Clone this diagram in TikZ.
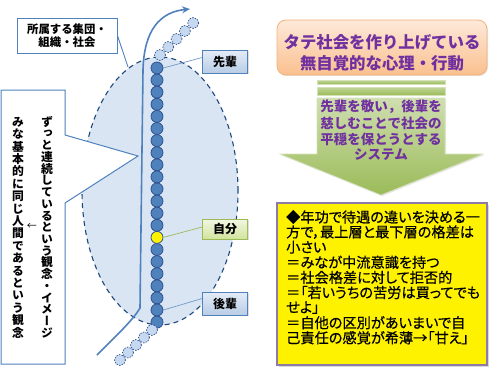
\documentclass[tikz,border=0pt]{standalone}
\usepackage{fontspec}
\setmainfont{Noto Sans CJK JP}
\newfontfamily\vjp{Noto Sans CJK JP}[RawFeature=+vert]
\newfontfamily\pjp{Noto Sans CJK JP}[RawFeature=+palt,FakeBold=0.5]
\usetikzlibrary{arrows.meta,shadows,calc,shapes.geometric}
\definecolor{bord}{HTML}{4F81BD}
\definecolor{darkb}{HTML}{1F497D}
\definecolor{chainf}{HTML}{4F81BD}
\definecolor{chaind}{HTML}{2F528F}
\definecolor{lightc}{HTML}{C6D9F1}
\definecolor{ellf}{HTML}{D9E5F3}
\definecolor{purp}{HTML}{7030A0}
\definecolor{ybord}{HTML}{8C7AA9}
\definecolor{gtop}{HTML}{C3D69B}
\definecolor{gbot}{HTML}{9BBB59}
\definecolor{otop}{HTML}{FDE9D9}
\definecolor{obot}{HTML}{FAC08F}
\definecolor{oline}{HTML}{F2B27A}
\definecolor{btop}{HTML}{E4ECF7}
\definecolor{bbot}{HTML}{B9CDE5}
\definecolor{ltop}{HTML}{F2F7E4}
\definecolor{lbot}{HTML}{D2E39C}
\tikzset{
  circ/.style={circle,draw=chaind,fill=chainf,line width=0.8pt,minimum size=12pt,inner sep=0pt},
  lcirc/.style={circle,draw=chaind,fill=lightc,dashed,dash pattern=on 1.5pt off 1.2pt,line width=0.7pt,minimum size=11pt,inner sep=0pt},
  lab/.style={draw=bord,line width=0.7pt,top color=btop,bottom color=bbot,minimum width=45pt,minimum height=23pt,inner sep=0pt,font=\fontsize{12}{12}\selectfont\bfseries,drop shadow={opacity=0.25,shadow xshift=1pt,shadow yshift=-1.2pt}},
  vch/.style={inner sep=0pt,text height=10pt,text depth=1.5pt,font=\vjp\bfseries\fontsize{11.8}{11.8}\selectfont},
  ytext/.style={anchor=west,inner sep=0pt,font=\pjp\fontsize{14.2}{14.2}\selectfont},
  gtext/.style={inner sep=0pt,text=purp,font=\bfseries\fontsize{13.5}{13.5}\selectfont},
  conn/.style={draw=bord!80,line width=0.7pt},
  arr/.style={draw=bord,line width=1.6pt,-{Stealth[length=8pt,width=7pt]}}
}
\begin{document}
\begin{tikzpicture}[x=1pt,y=-1pt]
\useasboundingbox (0,0) rectangle (500,380);
% ellipse
\node[ellipse,draw=darkb,fill=ellf,dashed,dash pattern=on 5pt off 4pt,line width=1.1pt,minimum width=156pt,minimum height=268pt,inner sep=0pt] (ell) at (160,191) {};
% big arrow curve
\coordinate (a0) at (97,355);
\coordinate (a1) at (140,308);
\coordinate (a2) at (143,70);
\coordinate (a3) at (190,9);
\draw[arr] (a0) .. controls (116,336) and (133,320) .. (a1) -- (a2) .. controls (144,30) and (160,12) .. (a3);
% chain
\foreach \i in {0,...,13,15,16,...,21} \node[circ] (c\i) at (157,68+\i*12.1) {};
\node[circ,fill=yellow,draw=chaind] (c14) at (157,68+14*12.1) {};
\foreach \i in {1,...,5} \node[lcirc] (t\i) at (151.7+\i*8.3,63-\i*8) {};
\foreach \i in {1,...,5} \node[lcirc] (b\i) at (160-\i*8,322.5+\i*7.5) {};
% labels
\node[lab] (sen) at (225,61.5) {先輩};
\node[lab,draw=gbot,top color=ltop,bottom color=lbot,minimum height=20pt] (jib) at (225,229) {自分};
\node[lab] (kou) at (225,303.5) {後輩};
\draw[conn] (c0.east) -- ([yshift=4pt]sen.west);
\draw[conn,draw=gbot] (c14.east) -- ([yshift=2pt]jib.west);
\draw[conn] (c20.east) -- ([yshift=5pt]kou.west);
% top-left group box
\node[draw=bord,line width=0.9pt,fill=white,minimum width=100pt,minimum height=35pt,inner sep=0pt,align=center,font=\bfseries\fontsize{11.4}{13}\selectfont] (grp) at (67,35.5) {所属する集団・\\組織・社会};
\coordinate (gtip) at (128,67);
\draw[bord,line width=0.9pt] (grp.east) -- (gtip);
% left callout
\coordinate (ltip) at (138,156);
\draw[bord,line width=1pt,fill=white] (1,90) -- (65,90) -- (65,135) -- (ltip) -- (65,203) -- (65,364) -- (1,364) -- cycle;
\foreach \c [count=\i from 0] in {ず,っ,と,連,続,し,て,い,る,と,い,う,観,念,・,イ,メ,ー,ジ}
  \node[vch] (r\i) at (47,122+\i*11.72) {\c};
\foreach \c [count=\i from 0] in {み,な,基,本,的,に,同,じ,人,間,で,あ,る,と,い,う,観,念}
  \node[vch] (l\i) at (18,122+\i*12.41) {\c};
\node[inner sep=0pt,font=\fontsize{10}{10}\selectfont] (larr) at (32,226) {←};
% title box
\node[draw=oline,line width=0.8pt,rounded corners=9pt,top color=otop,bottom color=obot,minimum width=210pt,minimum height=55pt,inner sep=0pt,drop shadow={opacity=0.2,shadow xshift=1pt,shadow yshift=-1.2pt}] (ttl) at (382,47.5) {};
\node[inner sep=0pt,text=purp,font=\bfseries\fontsize{16.4}{16.4}\selectfont] (ttl1) at (382,42) {タテ社会を作り上げている};
\node[inner sep=0pt,text=purp,font=\bfseries\fontsize{16.4}{16.4}\selectfont] (ttl2) at (382,63) {無自覚的な心理・行動};
% green block arrow
\path[top color=gtop,bottom color=gbot,draw=gtop!70!white,line width=0.6pt] (317,80) rectangle (445,84);
\path[top color=gtop,bottom color=gbot,draw=gtop!70!white,line width=0.6pt] (317,87) rectangle (445,95);
\path[top color=gtop!80!white,bottom color=gbot,draw=gtop!70!white,line width=0.6pt,drop shadow={opacity=0.2,shadow xshift=1pt,shadow yshift=-1.2pt}] (317,98) -- (445,98) -- (445,154) -- (483,154) -- (381,195) -- (280,154) -- (317,154) -- cycle;
\node[gtext] (g1) at (381,107) {先輩を敬い，後輩を};
\node[gtext] (g2) at (381,123) {慈しむことで社会の};
\node[gtext] (g3) at (381,139) {平穏を保とうとする};
\node[gtext] (g4) at (381,155) {システム};
% yellow box
\node[draw=ybord,line width=2.5pt,fill=yellow,minimum width=210pt,minimum height=162pt,inner sep=0pt,drop shadow={opacity=0.3,shadow xshift=1.5pt,shadow yshift=-1.5pt}] (ybox) at (382,284) {};
\foreach \t [count=\i from 0] in {{◆年功で待遇の違いを決める一},{方で，最上層と最下層の格差は},{小さい},{＝みなが中流意識を持つ},{＝社会格差に対して拒否的},{＝「若いうちの苦労は買ってでも},{せよ」},{＝自他の区別があいまいで自},{己責任の感覚が希薄→「甘え」}}
  \node[ytext] (y\i) at (286,217+\i*15.1) {\t};
\end{tikzpicture}
\end{document}
